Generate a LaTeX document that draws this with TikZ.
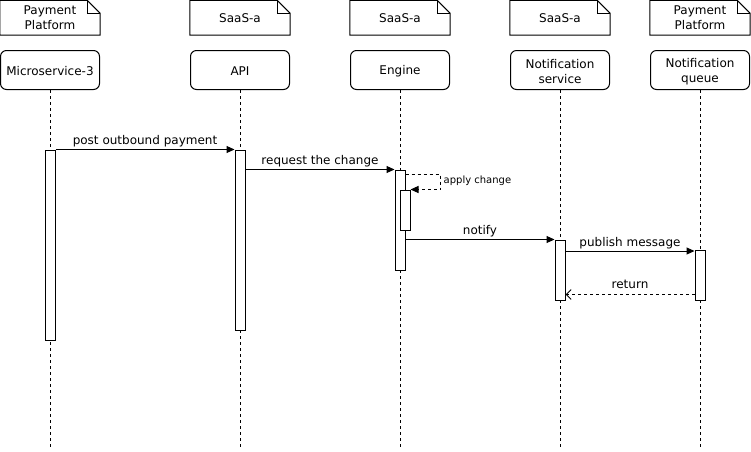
\documentclass[tikz,border=0pt]{standalone}
\usepackage{fontspec}
\setmainfont{DejaVu Sans}
\usetikzlibrary{arrows.meta,calc}
\begin{document}
\begin{tikzpicture}[x=1pt,y=-1pt,
  txt/.style={font=\fontsize{12}{15.5}\selectfont},
  part/.style={draw, rounded corners=6pt, minimum width=99pt, minimum height=39pt, line width=1pt, fill=white, inner sep=1pt},
  parttext/.style={txt, align=center, inner sep=0pt},
  notebox/.style={txt, minimum width=100pt, minimum height=34.5pt, align=center, inner sep=0pt},
  noteline/.style={line width=1pt, line join=miter},
  act/.style={draw, fill=white, minimum width=10pt, inner sep=0pt, line width=1pt},
  life/.style={dash pattern=on 3pt off 3pt, line width=1pt},
  msg/.style={-{Triangle[length=8pt,width=7pt]}, line width=1pt},
  selfm/.style={dash pattern=on 3pt off 3pt, -{Triangle[length=8pt,width=7pt]}, line width=1pt},
  retm/.style={dash pattern=on 3pt off 3pt, -{Straight Barb[length=5pt,width=10pt]}, line width=0.9pt},
  lbl/.style={txt, midway, above=1pt, inner sep=1pt},
]
\useasboundingbox (0,0) rectangle (751,451);

% notes
\foreach \nm/\cx/\t in {n1/50/{Payment\\Platform}, n2/240/{SaaS-a}, n3/400/{SaaS-a}, n4/560/{SaaS-a}, n5/700/{Payment\\Platform}}{
  \node[notebox] (\nm) at (\cx,17.75) {\t};
  \draw[noteline] (\nm.north west) -- ($(\nm.north east)+(-13,0)$) -- ($(\nm.north east)+(0,13)$) -- (\nm.south east) -- (\nm.south west) -- cycle;
  \draw[noteline] ($(\nm.north east)+(-13,0)$) -- ($(\nm.north east)+(-13,13)$) -- ($(\nm.north east)+(0,13)$);
}

% participants
\foreach \nm/\cx/\t in {p1/50/{Microservice-3}, p2/240/{API}, p3/400/{Engine}, p4/560/{Notification\\service}, p5/700/{Notification\\queue}}{
  \node[part] (\nm) at (\cx,70) {};
  \node[parttext] (\nm t) at ($(\nm.center)+(0,1.5)$) {\t};
}

% lifelines
\foreach \p in {p1,p2,p3,p4,p5}{
  \coordinate (\p end) at ($(\p.south)+(0,357)$);
  \draw[life] (\p.south) -- (\p end);
}

% activations
\node[act, minimum height=190pt] (a1) at (50,245) {};
\node[act, minimum height=180pt] (a2) at (240,240) {};
\node[act, minimum height=100pt] (a3) at (400,220) {};
\node[act, minimum height=40pt] (a4) at (405,210) {};
\node[act, minimum height=60pt] (a5) at (560,270) {};
\node[act, minimum height=50pt] (a6) at (700,275) {};

% messages
\draw[msg] (a1.north east) -- (a2.north west) node[lbl] {post outbound payment};
\draw[msg] (a2.east |- a3.north) -- (a3.north west) node[lbl] {request the change};
\coordinate (s0) at ($(a3.north east)+(0,5)$);
\coordinate (s1) at ($(a3.north east)+(35,5)$);
\draw[selfm] (s0) -- (s1) |- (a4.north east);
\node[font=\fontsize{10}{12}\selectfont, anchor=west, inner sep=3pt] (albl) at ($(s1)+(0,6.5)$) {apply change};
\draw[msg] (a3.east |- a5.north) -- (a5.north west) node[lbl] {notify};
\coordinate (pm) at ($(a6.north west)+(0,1.5)$);
\draw[msg] (a5.east |- pm) -- (pm) node[lbl] {publish message};
\coordinate (rt) at ($(a6.south west)+(0,-6)$);
\draw[retm] (rt) -- (a5.east |- rt) node[lbl, above=3.5pt] {return};
\end{tikzpicture}
\end{document}
